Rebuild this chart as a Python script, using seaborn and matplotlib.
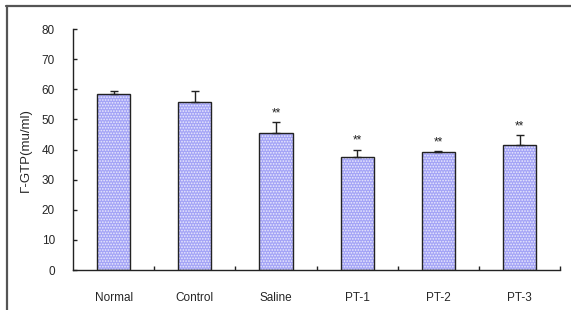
import pandas as pd
import matplotlib
matplotlib.use("Agg")
import matplotlib.pyplot as plt
from matplotlib.patches import Rectangle
from matplotlib.lines import Line2D
import seaborn as sns

# Data
groups = ["Normal", "Control", "Saline", "PT-1", "PT-2", "PT-3"]
means = [58.4, 55.9, 45.6, 37.5, 39.1, 41.4]
errs = [1.2, 3.7, 3.5, 2.4, 0.4, 3.3]
marks = ["", "", "**", "**", "**", "**"]

df = pd.DataFrame({"group": groups, "gtp": means})

sns.set_style("white")
plt.rcParams["font.family"] = ["Liberation Sans", "DejaVu Sans"]
plt.rcParams["hatch.linewidth"] = 0.8

fig = plt.figure(figsize=(5.71, 3.10), dpi=100)
ax = fig.add_axes([0.128, 0.129, 0.853, 0.777])

# Bars: dotted lavender fill
sns.barplot(data=df, x="group", y="gtp", ax=ax, color="#a4a4f6", saturation=1,
            width=0.41, edgecolor="#eaeafd", linewidth=0, hatch="......")
for p in ax.patches:
    ax.add_patch(Rectangle(p.get_xy(), p.get_width(), p.get_height(),
                           fill=False, edgecolor="#222222", lw=1.0, zorder=3))

# Upper error bars only
ax.errorbar(range(len(groups)), means, yerr=[[0] * len(errs), errs], fmt="none",
            ecolor="#222222", elinewidth=1, capsize=3, capthick=1, zorder=4)

# Significance marks
for i, (m, e, s) in enumerate(zip(means, errs, marks)):
    if s:
        ax.text(i, m + e + 1.0, s, ha="center", va="bottom", fontsize=8.5, color="#222222")

# Axes decoration
ax.set_ylim(0, 80)
ax.set_xlim(-0.5, len(groups) - 0.5)
ax.set_yticks(range(0, 81, 10))
ax.set_xlabel("")
ax.set_ylabel("Γ-GTP(mu/ml)", fontsize=9.5, labelpad=7)
ax.tick_params(axis="y", left=True, direction="in", length=3, width=1, pad=13,
               labelsize=8.5, color="#222222")
ax.tick_params(axis="x", which="major", bottom=False, length=0, pad=16, labelsize=8.5)
ax.set_xticks([i + 0.5 for i in range(len(groups))], minor=True)
ax.tick_params(axis="x", which="minor", bottom=True, direction="in", length=3, width=1,
               color="#222222")
for side in ["top", "right"]:
    ax.spines[side].set_visible(False)
for side in ["left", "bottom"]:
    ax.spines[side].set_color("#222222")
    ax.spines[side].set_linewidth(1)

# Outer frame (top and left edges visible)
fig.add_artist(Line2D([6 / 571, 1.0], [1 - 5.5 / 310, 1 - 5.5 / 310],
                      transform=fig.transFigure, color="#555555", lw=1.6))
fig.add_artist(Line2D([6.5 / 571, 6.5 / 571], [0, 1 - 5.5 / 310],
                      transform=fig.transFigure, color="#555555", lw=1.6))

fig.savefig("out.png", dpi=100)
